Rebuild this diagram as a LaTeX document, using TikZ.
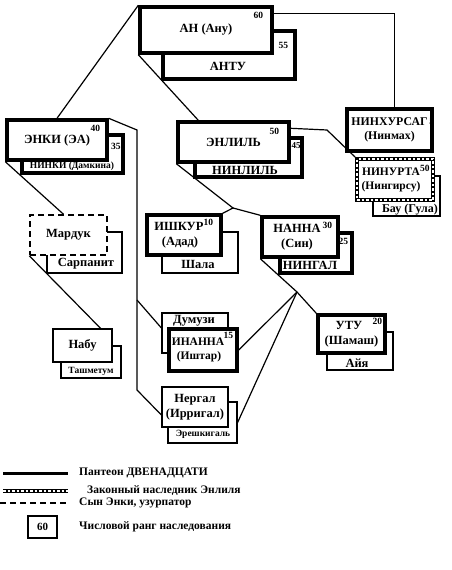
\documentclass[tikz,border=0pt]{standalone}
\usepackage{fontspec}
\setmainfont{Liberation Serif}
\usetikzlibrary{positioning}

\begin{document}
\begin{tikzpicture}
  [x=1pt, y=-1pt, font=\fontsize{12.5}{14.5}\selectfont\bfseries,
   main/.style = {draw, line width=3.4pt, fill=white, align=center, inner sep=0pt},
   thin/.style = {draw, line width=1.2pt, fill=white, align=center, inner sep=0pt},
   heir/.style = {main, line width=3.8pt,
     postaction={draw=white, line width=1.1pt, dash pattern=on 2.5pt off 2pt}},
   heirline/.style = {line width=3.6pt,
     postaction={draw=white, line width=1.1pt, dash pattern=on 2.5pt off 2pt}},
   usurper/.style = {thin, line width=1.5pt, dash pattern=on 6pt off 4pt},
   rank/.style = {anchor=north east, inner sep=0pt, font=\fontsize{9.5}{10}\selectfont\bfseries},
   small/.style = {font=\fontsize{9.5}{11}\selectfont\bfseries},
   narrow/.style = {font=\fontsize{11.5}{14}\selectfont\bfseries},
   legend/.style = {anchor=west, inner sep=0pt, font=\fontsize{11.5}{13}\selectfont\bfseries},
   link/.style = {line width=1.2pt}]
  \useasboundingbox (0,0) rectangle (451,570);

  % wives (behind)
  \node[main, minimum width=132pt, minimum height=48pt] (antu) at (229,55) {};
  \node[main, minimum width=101pt, minimum height=38pt] (ninki) at (72.5,154) {};
  \node[main, minimum width=107pt, minimum height=39pt] (ninlil) at (248.5,157.5) {};
  \node[thin, minimum width=67pt, minimum height=40pt] (bau) at (406.5,196) {};
  \node[thin, minimum width=75pt, minimum height=41pt] (sarpanit) at (84.5,252.5) {};
  \node[thin, minimum width=60pt, minimum height=32pt] (tashmetum) at (91,362) {};
  \node[thin, minimum width=76pt, minimum height=41pt] (shala) at (200,252.5) {};
  \node[main, minimum width=72pt, minimum height=40pt] (ningal) at (316,253) {};
  \node[thin, minimum width=66pt, minimum height=38pt] (aya) at (360,351) {};
  \node[thin, minimum width=66pt, minimum height=40pt] (dumuzi) at (195,333) {};
  \node[thin, minimum width=69pt, minimum height=41pt] (ereshkigal) at (202.5,422.5) {};

  % gods
  \node[main, minimum width=132pt, minimum height=46pt] (an) at (206,30) {АН (Ану)};
  \node[main, minimum width=100pt, minimum height=40pt] (enki) at (57,140) {ЭНКИ (ЭА)};
  \node[main, minimum width=111pt, minimum height=40pt] (enlil) at (233.5,142) {ЭНЛИЛЬ};
  \node[main, minimum width=85pt, minimum height=42pt, font=\fontsize{11.8}{14.5}\selectfont\bfseries]
    (ninhursag) at (389.5,130) {НИНХУРСАГ\\(Нинмах)};
  \node[heir, narrow, minimum width=76pt, minimum height=41pt] (ninurta) at (395,179.5)
    {НИНУРТА\hspace*{8pt}\\(Нингирсу)\hspace*{8pt}};
  \node[usurper, minimum width=77pt, minimum height=40pt] (marduk) at (68.5,235) {Мардук};
  \node[thin, minimum width=59pt, minimum height=33pt] (nabu) at (82.5,345.5) {Набу};
  \node[main, minimum width=74pt, minimum height=40pt] (ishkur) at (184,235)
    {ИШКУР\hspace*{10pt}\\(Адад)\hspace*{8pt}};
  \node[main, minimum width=76pt, minimum height=40pt] (nanna) at (300,237)
    {НАННА\hspace*{6pt}\\(Син)\hspace*{6pt}};
  \node[main, minimum width=67pt, minimum height=38pt] (utu) at (351.5,334)
    {УТУ\hspace*{5pt}\\(Шамаш)};
  \node[main, narrow, minimum width=68pt, minimum height=42pt] (inanna) at (203,350)
    {ИНАННА\hspace*{10pt}\\(Иштар)\hspace*{8pt}};
  \node[thin, minimum width=66pt, minimum height=40pt] (nergal) at (195,407) {Нергал\\(Ирригал)};

  % wives' names
  \node (antu-t) at (228,66) {АНТУ};
  \node[small] (ninki-t) at (72,166.5) {НИНКИ (Дамкина)};
  \node (ninlil-t) at (245,170) {НИНЛИЛЬ};
  \node[font=\fontsize{12}{13}\selectfont\bfseries] (bau-t) at (410,210) {Бау (Гула)};
  \node (sarpanit-t) at (86,264) {Сарпанит};
  \node[small] (tashmetum-t) at (91,371) {Ташметум};
  \node (shala-t) at (198,264) {Шала};
  \node (ningal-t) at (310,265) {НИНГАЛ};
  \node (aya-t) at (357,363) {Айя};
  \node (dumuzi-t) at (194,321) {Думузи};
  \node[small] (ereshkigal-t) at (203,434) {Эрешкигаль};

  % ranks
  \node[rank, xshift=-10.5pt, yshift=-6.5pt] (an-r) at (an.north east) {60};
  \node[rank, xshift=-8.5pt, yshift=-12.5pt] (antu-r) at (antu.north east) {55};
  \node[rank, xshift=-8.5pt, yshift=-6.5pt] (enki-r) at (enki.north east) {40};
  \node[rank, xshift=-4pt, yshift=-9.5pt] (ninki-r) at (ninki.north east) {35};
  \node[rank, xshift=-11.5pt, yshift=-7.5pt] (enlil-r) at (enlil.north east) {50};
  \node[rank, xshift=-3pt, yshift=-6.5pt, font=\fontsize{9}{9}\selectfont\bfseries]
    (ninlil-r) at (ninlil.north east) {45};
  \node[rank, xshift=0.5pt, yshift=-10.5pt] (ninhursag-r) at (ninhursag.north east) {5};
  \node[rank, xshift=-5pt, yshift=-7.5pt] (ninurta-r) at (ninurta.north east) {50};
  \node[rank, xshift=-9.5pt, yshift=-6pt] (ishkur-r) at (ishkur.north east) {10};
  \node[rank, xshift=-7.5pt, yshift=-6.5pt] (nanna-r) at (nanna.north east) {30};
  \node[rank, xshift=-5.5pt, yshift=-6.5pt] (ningal-r) at (ningal.north east) {25};
  \node[rank, xshift=-4.5pt, yshift=-4.5pt] (utu-r) at (utu.north east) {20};
  \node[rank, xshift=-5.5pt, yshift=-5pt] (inanna-r) at (inanna.north east) {15};

  % links
  \coordinate (e1) at (137,130);
  \coordinate (e2) at (137,300);
  \coordinate (e3) at (137,390);
  \coordinate (l1) at (327,130);
  \coordinate (j1) at (233,208);
  \coordinate (j2) at (297,292);
  \draw[link] (enki.north) -- (an.north west);
  \draw[link] (an.south west) -- ([xshift=22pt]enlil.north west);
  \draw[link] ([yshift=-8pt]an.north east) -| ([xshift=5pt]ninhursag.north);
  \draw[link] (enki.north east) -- (e1) -- (e3) -- ([yshift=-8pt]nergal.west);
  \draw[link] (e2) -- ([yshift=5pt]dumuzi.west);
  \draw[link] (enki.south west) -- ([xshift=-5pt]marduk.north);
  \draw[link] (marduk.south west) -- ([xshift=-12pt]nabu.north east);
  \draw[link] ([yshift=-8pt]enlil.north east) -- (l1) -- (ninurta.north west);
  \draw[link] (enlil.south west) -- (j1) -- (ishkur.north east);
  \draw[link] (j1) -- (nanna.north west);
  \draw[link] (nanna.south west) -- (j2) -- (utu.north west);
  \draw[link] (j2) -- (inanna.east);
  \draw[link] (j2) -- (ereshkigal.east);

  % legend
  \coordinate (p1) at (3,473);
  \coordinate (p2) at (68,473);
  \coordinate (h1) at (3,491);
  \coordinate (h2) at (68,491);
  \coordinate (s1) at (0,503);
  \coordinate (s2) at (68,503);
  \draw[line width=3pt] (p1) -- (p2);
  \draw[heirline] (h1) -- (h2);
  \draw[line width=1.4pt, dash pattern=on 6pt off 4pt] (s1) -- (s2);
  \node[thin, minimum width=29pt, minimum height=22pt, font=\fontsize{11}{12}\selectfont\bfseries]
    (box60) at (42.5,527) {60};
  \node[legend] (leg1) at (79,473) {Пантеон ДВЕНАДЦАТИ};
  \node[legend] (leg2) at (87,491) {Законный наследник Энлиля};
  \node[legend] (leg3) at (79,503) {Сын Энки, узурпатор};
  \node[legend] (leg4) at (79,527) {Числовой ранг наследования};
\end{tikzpicture}
\end{document}
